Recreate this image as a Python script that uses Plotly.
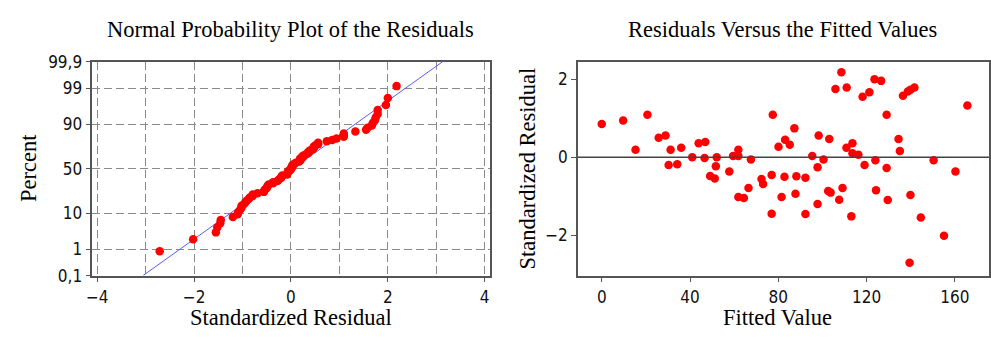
import numpy as np
from statistics import NormalDist
import plotly.graph_objects as go

# ---- data (fitted value, standardized residual)
fitted = [0, 9.7, 15.3, 20.7, 25.8, 28.9, 31.2, 30.3, 34.2, 36.0,
          41.0, 43.9, 46.9, 46.6, 52.1, 51.7, 49.1, 51.2, 57.8, 59.5,
          61.9, 61.9, 61.9, 64.4, 66.5, 67.6, 72.4, 73.1, 77.0, 77.0,
          77.5, 80.1, 81.5, 82.8, 83.1, 85.2, 87.3, 87.8, 88.2, 92.3,
          92.3, 95.4, 97.8, 97.8, 98.3, 100.5, 103.1, 102.6, 103.7, 105.9,
          107.6, 108.6, 109.1, 111.0, 110.9, 113.6, 113.1, 113.6, 116.3, 118.2,
          119.1, 121.3, 123.6, 124.0, 124.3, 126.6, 129.1, 129.1, 129.6, 134.5,
          135.1, 136.5, 138.7, 139.9, 141.7, 139.9, 139.5, 144.6, 150.4, 155.1,
          160.3, 165.7]
residual = [0.85, 0.94, 0.19, 1.09, 0.50, 0.56, 0.19, -0.20, -0.18, 0.24,
            0.00, 0.36, 0.39, -0.02, 0.00, -0.23, -0.48, -0.55, -0.37, 0.03,
            0.19, 0.03, -1.02, -1.05, -0.79, -0.06, -0.56, -0.69, -0.46, -1.45,
            1.09, 0.27, -1.02, -0.50, 0.45, 0.32, 0.74, -0.94, -0.49, -0.53,
            -1.46, 0.03, -0.26, -1.20, 0.56, -0.06, 0.47, -0.87, -0.91, 1.75,
            -1.09, 2.18, -0.79, 1.79, 0.24, 0.36, -1.52, 0.10, 0.06, 1.55,
            -0.20, 1.67, 2.00, -0.08, -0.85, 1.96, 1.09, -0.28, -1.10, 0.47,
            0.16, 1.58, 1.69, 1.73, 1.79, -0.97, -2.71, -1.55, -0.08, -2.02,
            -0.37, 1.33]

# ---- probability-axis tick labels
pct_ticks = [0.1, 1, 10, 50, 90, 99, 99.9]
pct_labels = ["0,1", "1", "10", "50", "90", "99", "99,9"]
x1_ticks = [-4, -2, 0, 2, 4]
x2_ticks = [0, 40, 80, 120, 160]
y2_ticks = [-2, 0, 2]

nd = NormalDist()
res_sorted = np.sort(np.array(residual))
n = len(res_sorted)
pct = (np.arange(1, n + 1) - 0.3) / (n + 0.4)          # median ranks
zq = [nd.inv_cdf(p) for p in pct]
mu, sd = float(np.mean(residual)), float(np.std(residual, ddof=1))
z_lo, z_hi = nd.inv_cdf(0.001), nd.inv_cdf(0.999)

SERIF = "Liberation Serif"
SANS = "DejaVu Sans Condensed, DejaVu Sans"
RED = "#ff0000"

fig = go.Figure()
fig.add_trace(go.Scatter(x=[mu + sd * z_lo, mu + sd * z_hi], y=[z_lo, z_hi],
                         mode="lines", line=dict(color="#5a5aff", width=1),
                         xaxis="x", yaxis="y", hoverinfo="skip"))
fig.add_trace(go.Scatter(x=res_sorted, y=zq, mode="markers",
                         marker=dict(color=RED, size=8.5),
                         xaxis="x", yaxis="y"))
fig.add_trace(go.Scatter(x=fitted, y=residual, mode="markers",
                         marker=dict(color=RED, size=8.5),
                         xaxis="x2", yaxis="y2"))

W, H = 991, 343
L1, R1, L2, R2, T, B = 87, 487, 576, 990, 55, 282
dx1 = [L1 / W, R1 / W]
dx2 = [L2 / W, R2 / W]
dy = [1 - B / H, 1 - T / H]

tickfont = dict(family=SANS, size=17, color="#111")
frame = dict(showline=True, linecolor="#555", linewidth=1.6, mirror=True,
             ticks="outside", ticklen=5, tickcolor="#555", zeroline=False)
GRID = dict(showgrid=True, gridcolor="#8a8a8a", griddash="8px,4px", gridwidth=1.2)

fig.update_layout(
    width=W, height=H, margin=dict(l=0, r=0, t=0, b=0),
    paper_bgcolor="white", plot_bgcolor="white", showlegend=False,
    xaxis=dict(domain=dx1, range=[-4.1, 4.1], tickvals=x1_ticks,
               minor=dict(dtick=1, tick0=0, showgrid=True, gridcolor="#8a8a8a",
                          griddash="8px,4px", gridwidth=1.2, ticks=""),
               tickfont=tickfont, anchor="y", **GRID, **frame),
    yaxis=dict(domain=dy, range=[z_lo, z_hi],
               tickvals=[nd.inv_cdf(p / 100) for p in pct_ticks],
               ticktext=pct_labels,
               tickfont=tickfont, anchor="x", **GRID, **frame),
    xaxis2=dict(domain=dx2, range=[-10.8, 175.5], tickvals=x2_ticks,
                showgrid=False, tickfont=tickfont, anchor="y2", **frame),
    yaxis2=dict(domain=dy, range=[-3.04, 2.45], tickvals=y2_ticks,
                showgrid=False, tickfont=tickfont, anchor="x2", **frame),
)
fig.add_shape(type="line", xref="x2 domain", yref="y2", x0=0, x1=1, y0=0, y1=0,
              line=dict(color="#444", width=1.4))

def txt(text, x, y, size, angle=0):
    fig.add_annotation(text=text, x=x / W, y=1 - y / H, xref="paper", yref="paper",
                       showarrow=False, textangle=angle,
                       font=dict(family=SERIF, size=size, color="#000"),
                       xanchor="center", yanchor="middle")

txt("Normal Probability Plot of the Residuals", 287, 21, 22.5)
txt("Residuals Versus the Fitted Values", 782, 21, 22.5)
txt("Standardized Residual", 287, 327, 22.5)
txt("Fitted Value", 777, 327, 22.5)
txt("Percent", 22, 168, 22.5, -90)
txt("Standardized Residual", 525, 168, 22.5, -90)

fig.write_html("out.html")
